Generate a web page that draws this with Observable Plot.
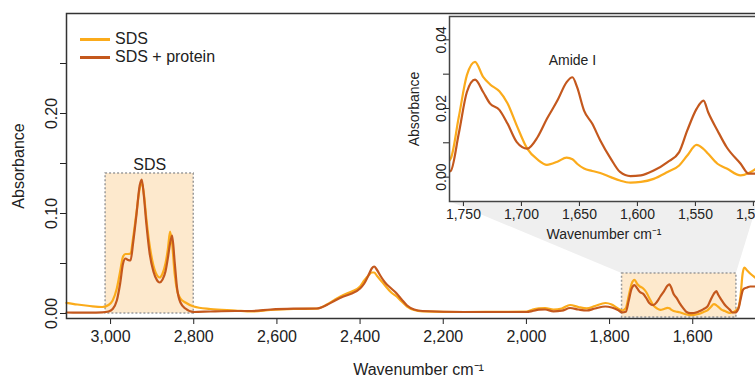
<!DOCTYPE html>
<html>
<head>
<meta charset="utf-8">
<script src="https://cdn.jsdelivr.net/npm/d3@7"></script>
<script src="https://cdn.jsdelivr.net/npm/@observablehq/plot@0.6"></script>
<style>
  html, body { margin: 0; padding: 0; background: white; }
  #wrap { position: relative; width: 755px; height: 376px; overflow: hidden; font-family: "Liberation Sans", Arial, sans-serif; color: #222; }
  #wrap svg { position: absolute; top: 0; max-width: none !important; }
  #legend { position: absolute; left: 80px; top: 30px; font-size: 16px; line-height: 18px; }
  #legend div { display: flex; align-items: center; height: 18px; }
  #legend span.sw { display: inline-block; width: 30px; height: 3px; margin-right: 5px; }
</style>
</head>
<body>
<div id="wrap"></div>
<script>
// ---- data ----
const seriesNames = ["SDS", "SDS + protein"];
const seriesColors = ["#fbab1b", "#c4581d"];

const wavenumber = [
  3106, 3080, 3050, 3020, 3005, 2995, 2985, 2977, 2970, 2964, 2958, 2952, 2946, 2938, 2930, 2925,
  2920, 2914, 2906, 2897, 2888, 2882, 2875, 2868, 2862, 2857, 2852, 2846, 2840, 2832, 2820, 2800,
  2760, 2700, 2660, 2615, 2560, 2505, 2480, 2460, 2440, 2420, 2400, 2390, 2380, 2372, 2366, 2360,
  2350, 2340, 2325, 2312, 2300, 2287, 2270, 2250, 2150, 2000, 1985, 1970, 1955, 1935, 1915, 1895,
  1875, 1855, 1835, 1810, 1795, 1780, 1770, 1761, 1754, 1747, 1740, 1733, 1727, 1719, 1712, 1704,
  1695, 1686, 1678, 1669, 1661, 1656, 1652, 1646, 1639, 1632, 1623, 1615, 1606, 1597, 1586, 1574,
  1564, 1557, 1549, 1543, 1539, 1531, 1523, 1511, 1504, 1498, 1490, 1485, 1480, 1476, 1469, 1462, 1450
];
const absSDS = [
  0.0107, 0.0090, 0.0075, 0.0065, 0.0085, 0.0130, 0.0250, 0.0420, 0.0570, 0.0595, 0.0595, 0.0600, 0.0750, 0.1000, 0.1250, 0.1310,
  0.1200, 0.0950, 0.0680, 0.0480, 0.0380, 0.0360, 0.0400, 0.0500, 0.0650, 0.0820, 0.0700, 0.0400, 0.0230, 0.0150, 0.0110, 0.0070,
  0.0045, 0.0030, 0.0020, 0.0035, 0.0045, 0.0048, 0.0090, 0.0140, 0.0185, 0.0220, 0.0270, 0.0330, 0.0380, 0.0410, 0.0410, 0.0380,
  0.0330, 0.0280, 0.0210, 0.0170, 0.0120, 0.0070, 0.0035, 0.0022, 0.0015, 0.0018, 0.0040, 0.0052, 0.0055, 0.0040, 0.0050, 0.0085,
  0.0065, 0.0052, 0.0075, 0.0105, 0.0090, 0.0050, 0.0030, 0.0054, 0.0175, 0.0297, 0.0336, 0.0292, 0.0270, 0.0250, 0.0215, 0.0150,
  0.0083, 0.0051, 0.0036, 0.0045, 0.0057, 0.0052, 0.0039, 0.0025, 0.0018, 0.0012, 0.0000, -0.0010, -0.0016, -0.0014, -0.0005, 0.0015,
  0.0034, 0.0063, 0.0094, 0.0082, 0.0068, 0.0039, 0.0025, 0.0005, 0.0012, 0.0024, 0.0060, 0.0180, 0.0400, 0.0460, 0.0430, 0.0400, 0.0360
];
const absProtein = [
  0.0010, 0.0008, 0.0008, 0.0012, 0.0020, 0.0045, 0.0130, 0.0300, 0.0500, 0.0550, 0.0535, 0.0530, 0.0700, 0.0980, 0.1280, 0.1340,
  0.1180, 0.0900, 0.0600, 0.0420, 0.0330, 0.0310, 0.0340, 0.0420, 0.0560, 0.0700, 0.0780, 0.0520, 0.0250, 0.0110, 0.0050, 0.0015,
  0.0020, 0.0025, 0.0025, 0.0040, 0.0048, 0.0050, 0.0085, 0.0130, 0.0170, 0.0200, 0.0250, 0.0300, 0.0380, 0.0450, 0.0470, 0.0440,
  0.0370, 0.0310, 0.0250, 0.0200, 0.0140, 0.0080, 0.0040, 0.0025, 0.0015, 0.0015, 0.0025, 0.0038, 0.0040, 0.0022, 0.0028, 0.0055,
  0.0040, 0.0030, 0.0050, 0.0070, 0.0060, 0.0035, 0.0012, 0.0018, 0.0127, 0.0248, 0.0284, 0.0248, 0.0214, 0.0196, 0.0156, 0.0102,
  0.0083, 0.0117, 0.0170, 0.0223, 0.0277, 0.0291, 0.0262, 0.0194, 0.0156, 0.0107, 0.0054, 0.0015, 0.0003, 0.0005, 0.0019, 0.0044,
  0.0073, 0.0136, 0.0199, 0.0223, 0.0189, 0.0136, 0.0087, 0.0039, 0.0010, 0.0010, 0.0050, 0.0140, 0.0230, 0.0250, 0.0260, 0.0270, 0.0270
];

// highlighted regions [x1, x2, y1, y2]
const boxNames = ["SDS", ""];
const boxX1 = [3012, 1770];
const boxX2 = [2800, 1495];
const boxY1 = [0.0, -0.004];
const boxY2 = [0.14, 0.04];

const mainXTicks = [3000, 2800, 2600, 2400, 2200, 2000, 1800, 1600];
const mainYTicks = [0, 0.05, 0.10, 0.15, 0.20, 0.25];
const mainYLabels = [0, 0.10, 0.20];
const insetXTicks = [1750, 1700, 1650, 1600, 1550, 1500];
const insetYTicks = [0, 0.01, 0.02, 0.03, 0.04];
const insetYLabels = [0, 0.02, 0.04];
const insetNote = {label: "Amide I", x: 1656, y: 0.0291};

// ---- build tidy rows ----
const rows = [];
seriesNames.forEach((s, k) => {
  const vals = k === 0 ? absSDS : absProtein;
  wavenumber.forEach((w, i) => rows.push({series: s, wn: w, a: vals[i]}));
});
const boxes = boxX1.map((x1, i) => ({name: boxNames[i], x1, x2: boxX2[i], y1: boxY1[i], y2: boxY2[i]}));

const FONT = "Liberation Sans, Arial, sans-serif";
const ink = "#222";

// ---- layout ----
const M = {w: 770, h: 376, l: 66, r: 0, t: 13, b: 58};
const mainXDomain = [3106, 1413];
const mainYDomain = [-0.005, 0.30];
const I = {left: 400, w: 358, h: 246, l: 49, r: 0, t: 16, b: 45};
const insetXDomain = [1762, 1495.6];
const insetYDomain = [-0.0071, 0.0468];

// connector wedge from inset frame bottom to zoom box top (computed via main scales)
const mx = d3.scaleLinear(mainXDomain, [M.l, M.w - M.r]);
const my = d3.scaleLinear(mainYDomain, [M.h - M.b, M.t]);
const insetBottomPx = I.h - I.b;
const wedge = [
  {y: my.invert(insetBottomPx), x1: mx.invert(I.left + I.l), x2: mx.invert(I.left + I.w - I.r)},
  {y: boxY2[1], x1: boxX1[1], x2: boxX2[1]}
];

const main = Plot.plot({
  width: M.w, height: M.h,
  marginLeft: M.l, marginRight: M.r, marginTop: M.t, marginBottom: M.b,
  style: {fontFamily: FONT, fontSize: "16px", color: ink, background: "transparent", overflow: "visible", maxWidth: "none"},
  x: {domain: mainXDomain},
  y: {domain: mainYDomain},
  color: {domain: seriesNames, range: seriesColors},
  marks: [
    Plot.areaX(wedge, {y: "y", x1: "x1", x2: "x2", fill: "#efefef"}),
    Plot.rect(boxes, {x1: "x1", x2: "x2", y1: "y1", y2: "y2", fill: "#fde9cd", stroke: "#9a9a9a", strokeWidth: 1.5, strokeDasharray: "2,2"}),
    Plot.text(boxes.filter(d => d.name), {x: d => (d.x1 + d.x2) / 2, y: "y2", text: "name", dy: -4, lineAnchor: "bottom", fontSize: 16, fill: ink}),
    Plot.line(rows, {x: "wn", y: "a", z: "series", stroke: "series", strokeWidth: 2.2, curve: "monotone-x"}),
    Plot.axisX({ticks: mainXTicks, tickFormat: d3.format(","), tickSize: 6, tickPadding: 6, fontSize: 16, label: "Wavenumber cm⁻¹", labelAnchor: "center", labelOffset: 56, labelArrow: "none"}),
    Plot.axisY({ticks: mainYTicks, tickFormat: () => "", tickSize: 6, label: null}),
    Plot.axisY({ticks: mainYLabels, tickFormat: d3.format(".2f"), tickSize: 0, tickPadding: 10, tickRotate: -90, fontSize: 16, label: "Absorbance", labelAnchor: "center", labelOffset: 54, labelArrow: "none"}),
    Plot.frame({stroke: "#333", strokeWidth: 1.5})
  ]
});
main.style.left = "0px";
main.style.maxWidth = "none";

const inset = Plot.plot({
  width: I.w, height: I.h,
  marginLeft: I.l, marginRight: I.r, marginTop: I.t, marginBottom: I.b,
  style: {fontFamily: FONT, fontSize: "14px", color: ink, background: "transparent", overflow: "visible", maxWidth: "none"},
  x: {domain: insetXDomain},
  y: {domain: insetYDomain},
  color: {domain: seriesNames, range: seriesColors},
  marks: [
    Plot.frame({fill: "white", stroke: null}),
    Plot.line(rows, {x: "wn", y: "a", z: "series", stroke: "series", strokeWidth: 2.2, curve: "monotone-x", clip: true}),
    Plot.text([insetNote], {x: "x", y: "y", text: "label", dy: -12, lineAnchor: "bottom", fontSize: 14, fill: ink}),
    Plot.axisX({ticks: insetXTicks, tickFormat: d3.format(","), tickSize: 5, tickPadding: 3, fontSize: 14, label: "Wavenumber cm⁻¹", labelAnchor: "center", labelOffset: 37, labelArrow: "none"}),
    Plot.axisY({ticks: insetYTicks, tickFormat: () => "", tickSize: 6, label: null}),
    Plot.axisY({ticks: insetYLabels, tickFormat: d3.format(".2f"), tickSize: 0, tickPadding: 4, tickRotate: -90, fontSize: 14, label: "Absorbance", labelAnchor: "center", labelOffset: 40, labelArrow: "none"}),
    Plot.frame({stroke: "#444", strokeWidth: 1.5})
  ]
});
inset.style.left = I.left + "px";
inset.style.maxWidth = "none";

const wrap = document.getElementById("wrap");
wrap.appendChild(main);
wrap.appendChild(inset);

// legend
const legend = document.createElement("div");
legend.id = "legend";
seriesNames.forEach((s, i) => {
  const row = document.createElement("div");
  const sw = document.createElement("span");
  sw.className = "sw";
  sw.style.background = seriesColors[i];
  row.appendChild(sw);
  row.appendChild(document.createTextNode(s));
  legend.appendChild(row);
});
wrap.appendChild(legend);
</script>
</body>
</html>
